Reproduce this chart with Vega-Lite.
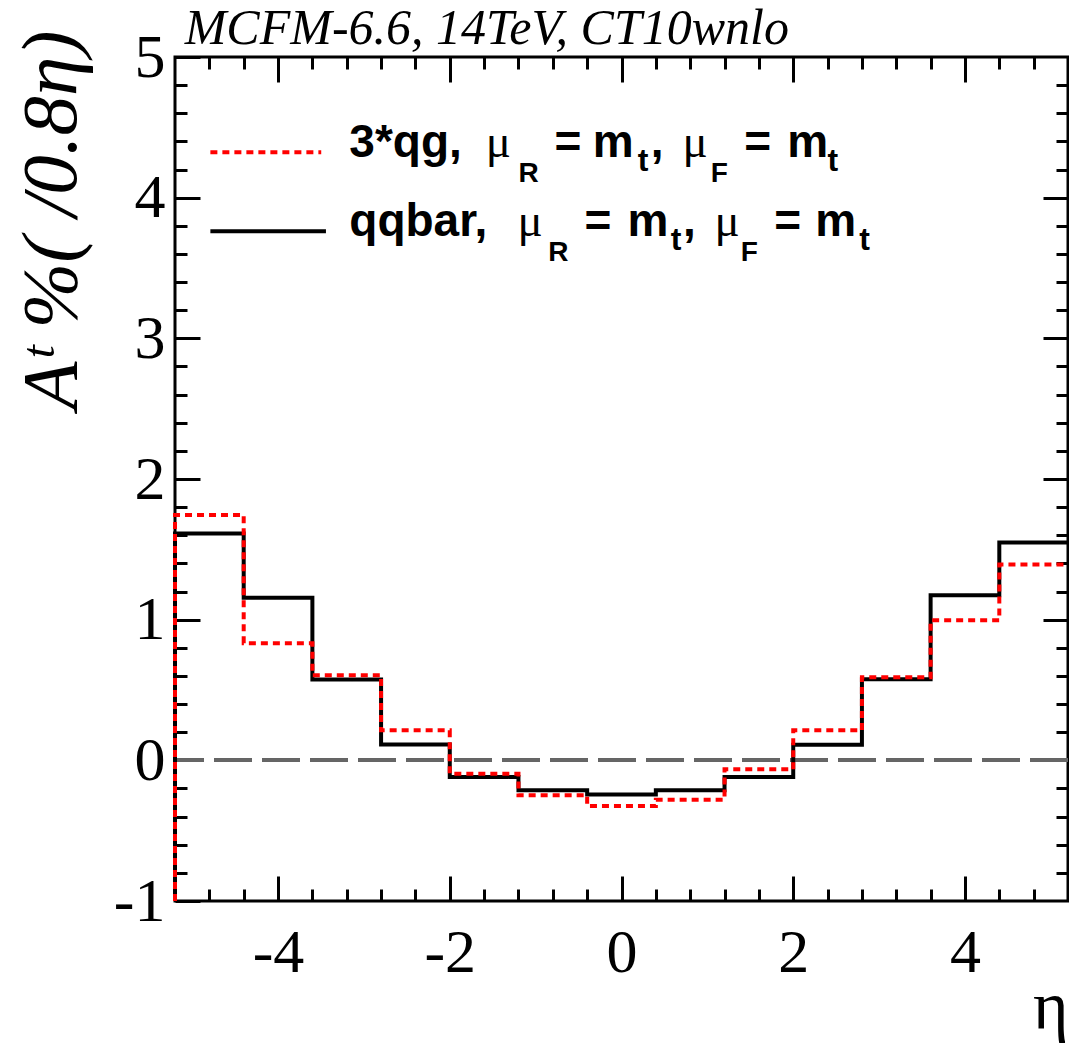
{
  "$schema": "https://vega.github.io/schema/vega-lite/v6.json",
  "width": 893,
  "height": 844,
  "autosize": "none",
  "padding": {"left": 175, "top": 57, "right": 1, "bottom": 143},
  "background": "white",
  "config": {
    "view": {"stroke": "black", "strokeWidth": 3},
    "axis": {"domain": false, "grid": false, "tickColor": "black", "tickWidth": 3, "labelColor": "black", "titleColor": "black"}
  },
  "data": {"values": [
    {"series": "qqbar", "i": 0, "eta": -5.2, "A": -1},
    {"series": "qqbar", "i": 1, "eta": -5.2, "A": 1.612},
    {"series": "qqbar", "i": 2, "eta": -4.4, "A": 1.155},
    {"series": "qqbar", "i": 3, "eta": -3.6, "A": 0.574},
    {"series": "qqbar", "i": 4, "eta": -2.8, "A": 0.112},
    {"series": "qqbar", "i": 5, "eta": -2.0, "A": -0.119},
    {"series": "qqbar", "i": 6, "eta": -1.2, "A": -0.212},
    {"series": "qqbar", "i": 7, "eta": -0.4, "A": -0.242},
    {"series": "qqbar", "i": 8, "eta": 0.4, "A": -0.212},
    {"series": "qqbar", "i": 9, "eta": 1.2, "A": -0.119},
    {"series": "qqbar", "i": 10, "eta": 2.0, "A": 0.110},
    {"series": "qqbar", "i": 11, "eta": 2.8, "A": 0.577},
    {"series": "qqbar", "i": 12, "eta": 3.6, "A": 1.174},
    {"series": "qqbar", "i": 13, "eta": 4.4, "A": 1.548},
    {"series": "qqbar", "i": 14, "eta": 5.2, "A": 1.548},
    {"series": "qg", "i": 0, "eta": -5.2, "A": -1},
    {"series": "qg", "i": 1, "eta": -5.2, "A": 1.744},
    {"series": "qg", "i": 2, "eta": -4.4, "A": 0.833},
    {"series": "qg", "i": 3, "eta": -3.6, "A": 0.605},
    {"series": "qg", "i": 4, "eta": -2.8, "A": 0.213},
    {"series": "qg", "i": 5, "eta": -2.0, "A": -0.095},
    {"series": "qg", "i": 6, "eta": -1.2, "A": -0.249},
    {"series": "qg", "i": 7, "eta": -0.4, "A": -0.325},
    {"series": "qg", "i": 8, "eta": 0.4, "A": -0.280},
    {"series": "qg", "i": 9, "eta": 1.2, "A": -0.064},
    {"series": "qg", "i": 10, "eta": 2.0, "A": 0.213},
    {"series": "qg", "i": 11, "eta": 2.8, "A": 0.590},
    {"series": "qg", "i": 12, "eta": 3.6, "A": 0.996},
    {"series": "qg", "i": 13, "eta": 4.4, "A": 1.392},
    {"series": "qg", "i": 14, "eta": 5.2, "A": 1.392}
  ]},
  "resolve": {"axis": {"x": "independent", "y": "independent"}},
  "layer": [
    {
      "mark": {"type": "rule", "stroke": "#666666", "strokeWidth": 3, "strokeDash": [38, 10]},
      "encoding": {"y": {"datum": 0, "type": "quantitative", "axis": null}}
    },
    {
      "mark": {"type": "line", "interpolate": "step-after", "strokeWidth": 4, "strokeCap": "butt"},
      "encoding": {
        "x": {
          "field": "eta", "type": "quantitative",
          "scale": {"domain": [-5.2, 5.2], "nice": false, "zero": false},
          "axis": {
            "orient": "bottom",
            "values": [-4.8, -4.4, -4, -3.6, -3.2, -2.8, -2.4, -2, -1.6, -1.2, -0.8, -0.4, 0, 0.4, 0.8, 1.2, 1.6, 2, 2.4, 2.8, 3.2, 3.6, 4, 4.4, 4.8],
            "tickSize": {"condition": {"test": "abs(datum.value/2 - round(datum.value/2)) < 0.001", "value": -25}, "value": -12},
            "labelExpr": "abs(datum.value/2 - round(datum.value/2)) < 0.001 ? '' + datum.value : ''",
            "labelFont": "Liberation Serif", "labelFontSize": 62, "labelPadding": 46, "labelBaseline": "top",
            "labelFlush": false, "labelOverlap": false, "labelBound": false,
            "title": "η", "titleFont": "Liberation Serif", "titleFontSize": 68, "titleFontWeight": "normal",
            "titleX": 893, "titleY": 127, "titleAlign": "right", "titleBaseline": "alphabetic", "titleAnchor": null
          }
        },
        "y": {
          "field": "A", "type": "quantitative",
          "scale": {"domain": [-1, 5], "nice": false, "zero": false},
          "axis": {
            "orient": "left",
            "values": [-1, -0.8, -0.6, -0.4, -0.2, 0, 0.2, 0.4, 0.6, 0.8, 1, 1.2, 1.4, 1.6, 1.8, 2, 2.2, 2.4, 2.6, 2.8, 3, 3.2, 3.4, 3.6, 3.8, 4, 4.2, 4.4, 4.6, 4.8, 5],
            "tickSize": {"condition": {"test": "abs(datum.value - round(datum.value)) < 0.001", "value": -25}, "value": -12},
            "labelExpr": "abs(datum.value - round(datum.value)) < 0.001 ? '' + round(datum.value) : ''",
            "labelFont": "Liberation Serif", "labelFontSize": 62, "labelPadding": 35, "labelBaseline": "middle",
            "labelFlush": false, "labelOverlap": false, "labelBound": false,
            "title": "Aᵗ %( /0.8η)", "titleFont": "Liberation Serif", "titleFontSize": 79, "titleFontWeight": "normal", "titleFontStyle": "italic",
            "titleAngle": 270, "titleX": -100, "titleY": -27, "titleAlign": "right", "titleBaseline": "alphabetic", "titleAnchor": null
          }
        },
        "color": {"field": "series", "type": "nominal", "scale": {"domain": ["qqbar", "qg"], "range": ["#000000", "#ff0000"]}, "legend": null},
        "strokeDash": {"field": "series", "type": "nominal", "scale": {"domain": ["qqbar", "qg"], "range": [[1, 0], [7, 5]]}, "legend": null},
        "order": {"field": "i", "type": "quantitative"}
      }
    },
    {
      "mark": {"type": "point", "opacity": 0},
      "encoding": {
        "x": {
          "field": "eta", "type": "quantitative",
          "axis": {
            "orient": "top", "labels": false, "title": null,
            "values": [-4.8, -4.4, -4, -3.6, -3.2, -2.8, -2.4, -2, -1.6, -1.2, -0.8, -0.4, 0, 0.4, 0.8, 1.2, 1.6, 2, 2.4, 2.8, 3.2, 3.6, 4, 4.4, 4.8],
            "tickSize": {"condition": {"test": "abs(datum.value/2 - round(datum.value/2)) < 0.001", "value": -25}, "value": -12}
          }
        },
        "y": {
          "field": "A", "type": "quantitative",
          "axis": {
            "orient": "right", "labels": false, "title": null,
            "values": [-0.8, -0.6, -0.4, -0.2, 0, 0.2, 0.4, 0.6, 0.8, 1, 1.2, 1.4, 1.6, 1.8, 2, 2.2, 2.4, 2.6, 2.8, 3, 3.2, 3.4, 3.6, 3.8, 4, 4.2, 4.4, 4.6, 4.8],
            "tickSize": {"condition": {"test": "abs(datum.value - round(datum.value)) < 0.001", "value": -25}, "value": -12}
          }
        }
      }
    },
    {
      "data": {"values": [{}]},
      "mark": {"type": "text", "text": "MCFM-6.6, 14TeV, CT10wnlo", "font": "Liberation Serif", "fontStyle": "italic", "fontSize": 50, "align": "left", "baseline": "alphabetic", "color": "black"},
      "encoding": {"x": {"datum": -5.087, "type": "quantitative", "axis": null}, "y": {"datum": 5.094, "type": "quantitative", "axis": null}}
    },
    {
      "data": {"values": [{}]},
      "mark": {"type": "rule", "stroke": "#ff0000", "strokeWidth": 4, "strokeDash": [7, 5]},
      "encoding": {"x": {"datum": -4.788, "type": "quantitative", "axis": null}, "x2": {"datum": -3.497}, "y": {"datum": 4.323, "type": "quantitative", "axis": null}}
    },
    {
      "data": {"values": [{}]},
      "mark": {"type": "rule", "stroke": "#000000", "strokeWidth": 4},
      "encoding": {"x": {"datum": -4.788, "type": "quantitative", "axis": null}, "x2": {"datum": -3.442}, "y": {"datum": 3.761, "type": "quantitative", "axis": null}}
    },
    {"data": {"values": [{}]}, "mark": {"type": "text", "text": "3*qg,", "font": "Liberation Sans", "fontWeight": "bold", "fontSize": 46, "align": "left", "baseline": "alphabetic", "color": "black"},
     "encoding": {"x": {"datum": -3.17, "type": "quantitative", "axis": null}, "y": {"datum": 4.29, "type": "quantitative", "axis": null}}},
    {"data": {"values": [{}]}, "mark": {"type": "text", "text": "μ", "font": "Liberation Serif", "fontSize": 47, "align": "left", "baseline": "alphabetic", "color": "black"},
     "encoding": {"x": {"datum": -1.58, "type": "quantitative", "axis": null}, "y": {"datum": 4.29, "type": "quantitative", "axis": null}}},
    {"data": {"values": [{}]}, "mark": {"type": "text", "text": "R", "font": "Liberation Sans", "fontWeight": "bold", "fontSize": 28, "align": "left", "baseline": "alphabetic", "color": "black"},
     "encoding": {"x": {"datum": -1.2, "type": "quantitative", "axis": null}, "y": {"datum": 4.112, "type": "quantitative", "axis": null}}},
    {"data": {"values": [{}]}, "mark": {"type": "text", "text": "=", "font": "Liberation Sans", "fontWeight": "bold", "fontSize": 46, "align": "left", "baseline": "alphabetic", "color": "black"},
     "encoding": {"x": {"datum": -0.78, "type": "quantitative", "axis": null}, "y": {"datum": 4.29, "type": "quantitative", "axis": null}}},
    {"data": {"values": [{}]}, "mark": {"type": "text", "text": "m", "font": "Liberation Sans", "fontWeight": "bold", "fontSize": 46, "align": "left", "baseline": "alphabetic", "color": "black"},
     "encoding": {"x": {"datum": -0.335, "type": "quantitative", "axis": null}, "y": {"datum": 4.29, "type": "quantitative", "axis": null}}},
    {"data": {"values": [{}]}, "mark": {"type": "text", "text": "t", "font": "Liberation Sans", "fontWeight": "bold", "fontSize": 32, "align": "left", "baseline": "alphabetic", "color": "black"},
     "encoding": {"x": {"datum": 0.19, "type": "quantitative", "axis": null}, "y": {"datum": 4.19, "type": "quantitative", "axis": null}}},
    {"data": {"values": [{}]}, "mark": {"type": "text", "text": ",", "font": "Liberation Sans", "fontWeight": "bold", "fontSize": 46, "align": "left", "baseline": "alphabetic", "color": "black"},
     "encoding": {"x": {"datum": 0.34, "type": "quantitative", "axis": null}, "y": {"datum": 4.29, "type": "quantitative", "axis": null}}},
    {"data": {"values": [{}]}, "mark": {"type": "text", "text": "μ", "font": "Liberation Serif", "fontSize": 47, "align": "left", "baseline": "alphabetic", "color": "black"},
     "encoding": {"x": {"datum": 0.71, "type": "quantitative", "axis": null}, "y": {"datum": 4.29, "type": "quantitative", "axis": null}}},
    {"data": {"values": [{}]}, "mark": {"type": "text", "text": "F", "font": "Liberation Sans", "fontWeight": "bold", "fontSize": 28, "align": "left", "baseline": "alphabetic", "color": "black"},
     "encoding": {"x": {"datum": 1.04, "type": "quantitative", "axis": null}, "y": {"datum": 4.112, "type": "quantitative", "axis": null}}},
    {"data": {"values": [{}]}, "mark": {"type": "text", "text": "=", "font": "Liberation Sans", "fontWeight": "bold", "fontSize": 46, "align": "left", "baseline": "alphabetic", "color": "black"},
     "encoding": {"x": {"datum": 1.43, "type": "quantitative", "axis": null}, "y": {"datum": 4.29, "type": "quantitative", "axis": null}}},
    {"data": {"values": [{}]}, "mark": {"type": "text", "text": "m", "font": "Liberation Sans", "fontWeight": "bold", "fontSize": 46, "align": "left", "baseline": "alphabetic", "color": "black"},
     "encoding": {"x": {"datum": 1.93, "type": "quantitative", "axis": null}, "y": {"datum": 4.29, "type": "quantitative", "axis": null}}},
    {"data": {"values": [{}]}, "mark": {"type": "text", "text": "t", "font": "Liberation Sans", "fontWeight": "bold", "fontSize": 32, "align": "left", "baseline": "alphabetic", "color": "black"},
     "encoding": {"x": {"datum": 2.4, "type": "quantitative", "axis": null}, "y": {"datum": 4.19, "type": "quantitative", "axis": null}}},
    {"data": {"values": [{}]}, "mark": {"type": "text", "text": "qqbar,", "font": "Liberation Sans", "fontWeight": "bold", "fontSize": 46, "align": "left", "baseline": "alphabetic", "color": "black"},
     "encoding": {"x": {"datum": -3.17, "type": "quantitative", "axis": null}, "y": {"datum": 3.727, "type": "quantitative", "axis": null}}},
    {"data": {"values": [{}]}, "mark": {"type": "text", "text": "μ", "font": "Liberation Serif", "fontSize": 47, "align": "left", "baseline": "alphabetic", "color": "black"},
     "encoding": {"x": {"datum": -1.21, "type": "quantitative", "axis": null}, "y": {"datum": 3.727, "type": "quantitative", "axis": null}}},
    {"data": {"values": [{}]}, "mark": {"type": "text", "text": "R", "font": "Liberation Sans", "fontWeight": "bold", "fontSize": 28, "align": "left", "baseline": "alphabetic", "color": "black"},
     "encoding": {"x": {"datum": -0.853, "type": "quantitative", "axis": null}, "y": {"datum": 3.549, "type": "quantitative", "axis": null}}},
    {"data": {"values": [{}]}, "mark": {"type": "text", "text": "=", "font": "Liberation Sans", "fontWeight": "bold", "fontSize": 46, "align": "left", "baseline": "alphabetic", "color": "black"},
     "encoding": {"x": {"datum": -0.43, "type": "quantitative", "axis": null}, "y": {"datum": 3.727, "type": "quantitative", "axis": null}}},
    {"data": {"values": [{}]}, "mark": {"type": "text", "text": "m", "font": "Liberation Sans", "fontWeight": "bold", "fontSize": 46, "align": "left", "baseline": "alphabetic", "color": "black"},
     "encoding": {"x": {"datum": 0.07, "type": "quantitative", "axis": null}, "y": {"datum": 3.727, "type": "quantitative", "axis": null}}},
    {"data": {"values": [{}]}, "mark": {"type": "text", "text": "t", "font": "Liberation Sans", "fontWeight": "bold", "fontSize": 32, "align": "left", "baseline": "alphabetic", "color": "black"},
     "encoding": {"x": {"datum": 0.575, "type": "quantitative", "axis": null}, "y": {"datum": 3.628, "type": "quantitative", "axis": null}}},
    {"data": {"values": [{}]}, "mark": {"type": "text", "text": ",", "font": "Liberation Sans", "fontWeight": "bold", "fontSize": 46, "align": "left", "baseline": "alphabetic", "color": "black"},
     "encoding": {"x": {"datum": 0.715, "type": "quantitative", "axis": null}, "y": {"datum": 3.727, "type": "quantitative", "axis": null}}},
    {"data": {"values": [{}]}, "mark": {"type": "text", "text": "μ", "font": "Liberation Serif", "fontSize": 47, "align": "left", "baseline": "alphabetic", "color": "black"},
     "encoding": {"x": {"datum": 1.083, "type": "quantitative", "axis": null}, "y": {"datum": 3.727, "type": "quantitative", "axis": null}}},
    {"data": {"values": [{}]}, "mark": {"type": "text", "text": "F", "font": "Liberation Sans", "fontWeight": "bold", "fontSize": 28, "align": "left", "baseline": "alphabetic", "color": "black"},
     "encoding": {"x": {"datum": 1.39, "type": "quantitative", "axis": null}, "y": {"datum": 3.549, "type": "quantitative", "axis": null}}},
    {"data": {"values": [{}]}, "mark": {"type": "text", "text": "=", "font": "Liberation Sans", "fontWeight": "bold", "fontSize": 46, "align": "left", "baseline": "alphabetic", "color": "black"},
     "encoding": {"x": {"datum": 1.78, "type": "quantitative", "axis": null}, "y": {"datum": 3.727, "type": "quantitative", "axis": null}}},
    {"data": {"values": [{}]}, "mark": {"type": "text", "text": "m", "font": "Liberation Sans", "fontWeight": "bold", "fontSize": 46, "align": "left", "baseline": "alphabetic", "color": "black"},
     "encoding": {"x": {"datum": 2.255, "type": "quantitative", "axis": null}, "y": {"datum": 3.727, "type": "quantitative", "axis": null}}},
    {"data": {"values": [{}]}, "mark": {"type": "text", "text": "t", "font": "Liberation Sans", "fontWeight": "bold", "fontSize": 32, "align": "left", "baseline": "alphabetic", "color": "black"},
     "encoding": {"x": {"datum": 2.77, "type": "quantitative", "axis": null}, "y": {"datum": 3.628, "type": "quantitative", "axis": null}}}
  ]
}
